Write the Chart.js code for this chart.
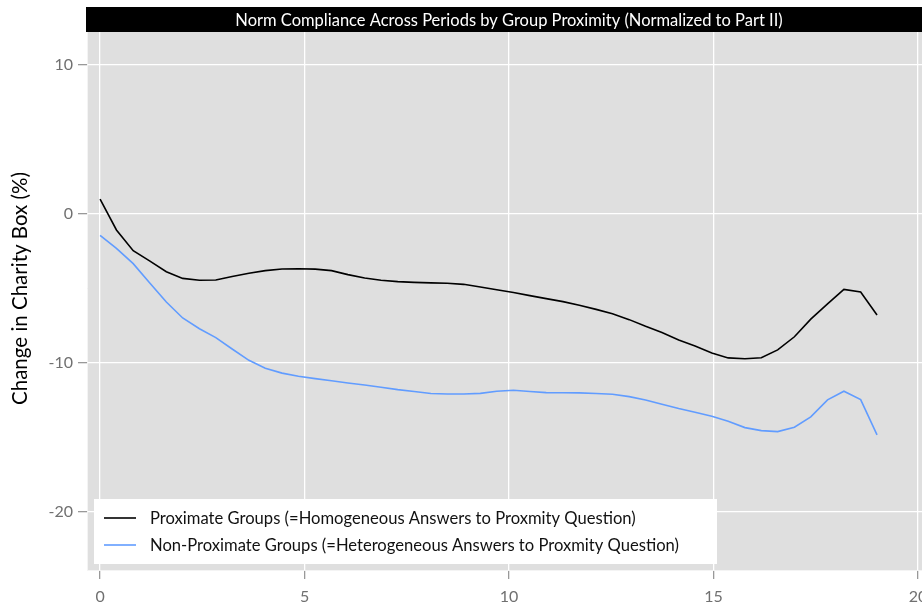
<!DOCTYPE html>
<html lang="en">
<head>
<meta charset="utf-8">
<title>Norm Compliance Across Periods by Group Proximity</title>
<script src="https://cdn.jsdelivr.net/npm/chart.js"></script>
<style>
  html, body { margin:0; padding:0; background:#fff; overflow:hidden }
  #wrap { width:931px; height:607px }
</style>
</head>
<body>
<div id="wrap"><canvas id="c" width="931" height="607"></canvas></div>
<script>
// ===== DATA =====
const chartTitle = 'Norm Compliance Across Periods by Group Proximity (Normalized to Part II)';
const yTitle = 'Change in Charity Box (%)';
const seriesNames = [
  'Proximate Groups (=Homogeneous Answers to Proxmity Question)',
  'Non-Proximate Groups (=Heterogeneous Answers to Proxmity Question)'
];
const periods = [0, 0.40, 0.81, 1.21, 1.62, 2.02, 2.43, 2.83, 3.23, 3.64,
  4.04, 4.45, 4.85, 5.26, 5.66, 6.06, 6.47, 6.87, 7.28, 7.68,
  8.09, 8.49, 8.89, 9.30, 9.70, 10.11, 10.51, 10.91, 11.32, 11.72,
  12.13, 12.53, 12.94, 13.34, 13.74, 14.15, 14.55, 14.96, 15.36, 15.77,
  16.17, 16.57, 16.98, 17.38, 17.79, 18.19, 18.60, 19.00];
const proximate = [1.0, -1.07, -2.46, -3.15, -3.87, -4.32, -4.45, -4.43, -4.2, -3.98,
  -3.8, -3.69, -3.67, -3.70, -3.80, -4.07, -4.30, -4.45, -4.54, -4.59,
  -4.62, -4.65, -4.72, -4.9, -5.08, -5.27, -5.48, -5.68, -5.88, -6.13,
  -6.4, -6.69, -7.09, -7.54, -7.96, -8.46, -8.86, -9.33, -9.66, -9.72,
  -9.65, -9.12, -8.24, -7.06, -6.03, -5.06, -5.23, -6.78];
const nonProximate = [-1.43, -2.30, -3.33, -4.61, -5.91, -6.98, -7.70, -8.30, -9.06, -9.82,
  -10.35, -10.68, -10.89, -11.05, -11.19, -11.34, -11.48, -11.63, -11.79, -11.92,
  -12.05, -12.08, -12.08, -12.04, -11.9, -11.83, -11.92, -11.99, -12.0, -12.01,
  -12.05, -12.1, -12.26, -12.48, -12.77, -13.06, -13.31, -13.58, -13.91, -14.34,
  -14.54, -14.61, -14.31, -13.62, -12.48, -11.9, -12.46, -14.83];
const xTicks = [0, 5, 10, 15, 20];
const yTicks = [10, 0, -10, -20];

// ===== STYLE =====
const FONT = 'Lato, "Open Sans", sans-serif';
const stripH = 25;
const colors = ['#000000', '#619cff'];

const toPts = ys => ys.map((y, i) => ({ x: periods[i], y: y }));

// panel background, facet strip and inside legend
const panelPlugin = {
  id: 'panel',
  beforeDraw(chart) {
    const { ctx, chartArea: a } = chart;
    ctx.save();
    ctx.fillStyle = '#dfdfdf';
    ctx.fillRect(a.left, a.top, a.right - a.left, a.bottom - a.top);
    ctx.restore();
  },
  beforeDatasetsDraw(chart) {
    const { ctx, chartArea: a } = chart;
    ctx.save();
    ctx.fillStyle = '#000';
    ctx.fillRect(a.left - 1, a.top, a.right - a.left + 1, stripH);
    ctx.fillStyle = '#fff';
    ctx.font = '16.5px ' + FONT;
    ctx.textAlign = 'center';
    ctx.textBaseline = 'middle';
    ctx.fillText(chartTitle, (a.left + a.right) / 2, a.top + stripH / 2 + 1);
    ctx.restore();
  },
  afterDatasetsDraw(chart) {
    const { ctx, chartArea: a } = chart;
    const bx = a.left + 7, bw = 623, bh = 65, by = a.bottom - 6 - bh;
    ctx.save();
    ctx.fillStyle = '#fff';
    ctx.fillRect(bx, by, bw, bh);
    ctx.font = '16.6px ' + FONT;
    ctx.textBaseline = 'middle';
    chart.data.datasets.forEach((ds, i) => {
      const yy = by + 19 + i * 27;
      ctx.strokeStyle = ds.borderColor;
      ctx.lineWidth = 1.6;
      ctx.beginPath();
      ctx.moveTo(bx + 10, yy);
      ctx.lineTo(bx + 42, yy);
      ctx.stroke();
      ctx.fillStyle = '#111';
      ctx.fillText(ds.label, bx + 56, yy + 1);
    });
    ctx.restore();
  }
};

new Chart(document.getElementById('c'), {
  type: 'line',
  data: {
    datasets: [
      { label: seriesNames[0], data: toPts(proximate), borderColor: colors[0], borderWidth: 1.6 },
      { label: seriesNames[1], data: toPts(nonProximate), borderColor: colors[1], borderWidth: 1.6 }
    ]
  },
  options: {
    responsive: false,
    animation: false,
    devicePixelRatio: 1,
    layout: { padding: { top: 7, left: 0, right: 0, bottom: 0 } },
    elements: { point: { radius: 0 }, line: { tension: 0, fill: false } },
    plugins: { legend: { display: false }, tooltip: { enabled: false }, title: { display: false } },
    scales: {
      x: {
        type: 'linear',
        min: -0.32, max: 20.32,
        afterBuildTicks: s => { s.ticks = xTicks.map(v => ({ value: v })); },
        afterFit: s => { s.height = 37; s.paddingLeft = 0; s.paddingRight = 0; },
        grid: { color: '#ffffff', lineWidth: 1.3, tickColor: '#999', tickLength: 9, tickWidth: 1.3 },
        border: { display: true, color: '#f4f4f4', width: 1 },
        ticks: { color: '#707070', font: { family: FONT, size: 16 }, padding: 8, maxRotation: 0 }
      },
      y: {
        type: 'linear',
        min: -23.9, max: 13.9,
        afterBuildTicks: s => { s.ticks = yTicks.map(v => ({ value: v })); },
        afterFit: s => { s.width = 87; s.paddingTop = 0; s.paddingBottom = 0; },
        grid: { color: '#ffffff', lineWidth: 1.3, tickColor: '#999', tickLength: 9, tickWidth: 1.3 },
        border: { display: true, color: '#f4f4f4', width: 1 },
        ticks: { color: '#707070', font: { family: FONT, size: 16 }, padding: 5 },
        title: { display: true, text: yTitle, color: '#000', font: { family: FONT, size: 20.5 }, padding: { top: 8, bottom: 0 } }
      }
    }
  },
  plugins: [panelPlugin]
});
</script>
</body>
</html>
